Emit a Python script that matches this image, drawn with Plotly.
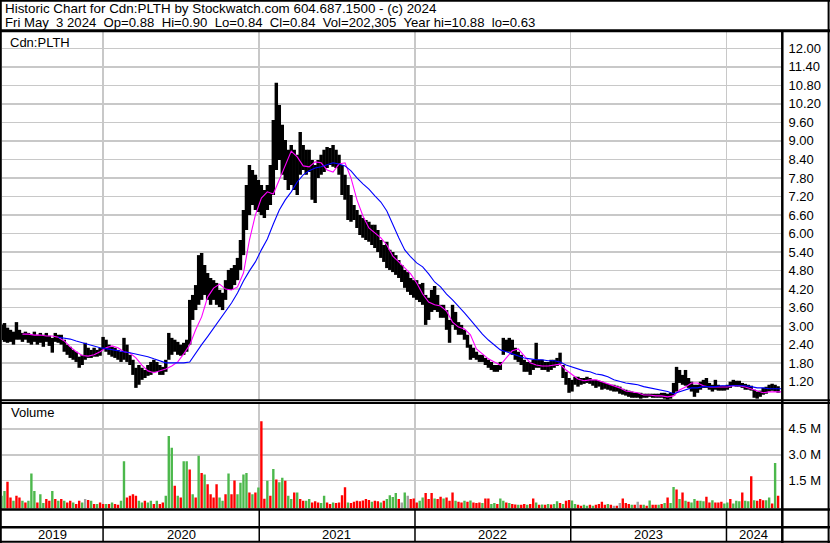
import pandas as pd
import plotly.graph_objects as go

# ---------------- data (weekly) ----------------
week_dates = pd.date_range("2019-05-08", periods=261, freq="7D")

highs = [
    3.05,
    3.10, 2.95, 2.88, 2.82, 3.13, 2.88, 2.78, 2.82, 2.78, 2.72,
    2.82, 2.72, 2.78, 2.72, 2.78, 2.69, 2.62, 2.78, 2.72, 2.72,
    2.56, 2.40, 2.33, 2.23, 2.17, 2.01, 2.07, 2.46, 2.30, 2.23,
    2.30, 2.23, 2.30, 2.65, 2.56, 2.40, 2.33, 2.30, 2.23, 2.17,
    2.62, 2.40, 2.07, 1.91, 1.65, 1.74, 1.65, 1.58, 1.74, 1.84,
    1.91, 1.84, 1.74, 1.68, 1.91, 2.78, 2.62, 2.56, 2.49, 2.40,
    2.46, 2.56, 3.85, 4.01, 4.33, 5.30, 5.37, 4.98, 4.72, 4.56,
    4.49, 4.40, 4.17, 4.08, 4.49, 4.82, 4.88, 4.98, 5.21, 5.79,
    6.76, 7.57, 8.22, 8.06, 7.90, 7.73, 7.57, 7.41, 7.57, 8.22,
    9.68, 10.88, 10.16, 9.52, 9.03, 8.71, 8.87, 8.71, 8.55, 9.29,
    8.87, 8.71, 8.71, 8.38, 8.22, 8.38, 8.55, 8.71, 8.80, 8.77,
    8.87, 8.71, 8.55, 8.22, 7.90, 7.57, 7.25, 6.92, 6.76, 6.60,
    6.50, 6.44, 6.38, 6.28, 6.28, 6.11, 5.79, 5.63, 5.73, 5.47,
    5.40,
    5.30, 5.14, 4.98, 4.82, 4.75, 4.56, 4.49, 4.49, 4.36, 4.40,
    4.01, 3.92, 4.17, 4.30, 4.01, 3.69, 3.69, 3.52, 3.20, 3.69,
    3.46, 3.13, 3.04, 2.88, 2.72, 2.40, 2.30, 2.17, 2.07, 2.07,
    1.97, 1.91, 1.84, 1.74, 1.74, 1.84, 2.62, 2.56, 2.62, 2.56,
    2.30, 2.17, 2.07, 1.91, 1.84, 1.84, 1.91, 2.46, 1.91, 1.91,
    1.84, 1.84, 1.91, 1.91, 1.97, 2.14, 1.74, 1.52, 1.32, 1.26,
    1.36, 1.36, 1.32, 1.32, 1.36, 1.32, 1.26, 1.26, 1.23, 1.20,
    1.16, 1.13, 1.10, 1.10, 1.07, 1.04, 0.97, 0.94, 0.91, 0.88,
    0.84, 0.84, 0.84, 0.81, 0.81, 0.81, 0.81, 0.81, 0.81, 0.84,
    0.84, 0.81, 0.84, 1.16, 1.68, 1.58, 1.42, 1.58, 1.32, 1.20,
    1.10, 1.10, 1.20, 1.26, 1.32, 1.16, 1.10, 1.26, 1.10, 1.07,
    1.07, 1.10, 1.20, 1.26, 1.23, 1.23, 1.16, 1.13, 1.10, 1.07,
    0.94, 0.88, 0.91, 1.00, 1.04, 1.10, 1.13, 1.10, 1.05,
]

lows = [
    2.55,
    2.49, 2.46, 2.49, 2.40, 2.56, 2.56, 2.49, 2.56, 2.46, 2.40,
    2.49, 2.40, 2.46, 2.33, 2.49, 2.36, 2.14, 2.49, 2.46, 2.40,
    2.17, 2.07, 1.97, 1.91, 1.84, 1.65, 1.74, 1.91, 1.97, 1.97,
    2.01, 2.01, 2.04, 2.23, 2.17, 2.07, 2.01, 1.97, 1.91, 1.84,
    1.91, 1.84, 1.74, 1.42, 1.00, 1.10, 1.26, 1.32, 1.39, 1.42,
    1.52, 1.52, 1.42, 1.42, 1.52, 1.91, 2.07, 2.17, 2.07, 2.04,
    2.07, 2.17, 2.40, 3.20, 3.52, 3.69, 3.85, 4.01, 3.85, 3.69,
    3.85, 3.69, 3.62, 3.52, 3.85, 4.17, 4.17, 4.33, 4.49, 4.82,
    5.30, 6.11, 6.60, 6.92, 6.76, 6.70, 6.60, 6.50, 6.76, 6.92,
    7.25, 8.06, 8.38, 7.90, 7.73, 7.41, 7.57, 7.41, 7.25, 7.90,
    8.06, 7.90, 7.99, 7.09, 6.99, 7.80, 7.90, 7.99, 8.12, 8.22,
    8.16, 8.12, 7.90, 7.25, 7.09, 6.44, 6.38, 6.44, 6.18, 5.95,
    5.86, 5.79, 5.73, 5.63, 5.53, 5.40, 5.21, 5.08, 4.88, 4.82,
    4.75,
    4.66, 4.56, 4.43, 4.24, 4.11, 4.01, 3.92, 3.85, 3.78, 3.69,
    3.04, 3.20, 3.46, 3.52, 3.46, 3.27, 3.27, 2.88, 2.46, 3.04,
    2.88, 2.72, 2.72, 2.56, 2.30, 1.91, 1.97, 1.91, 1.84, 1.84,
    1.74, 1.65, 1.58, 1.52, 1.52, 1.58, 2.07, 2.17, 2.17, 2.07,
    1.91, 1.84, 1.74, 1.52, 1.52, 1.42, 1.58, 1.65, 1.65, 1.58,
    1.58, 1.52, 1.58, 1.65, 1.71, 1.78, 1.32, 1.10, 0.84, 0.88,
    1.10, 1.04, 1.10, 1.13, 1.16, 1.13, 1.07, 1.00, 1.04, 0.94,
    0.97, 0.94, 0.91, 0.88, 0.88, 0.81, 0.78, 0.75, 0.71, 0.68,
    0.68, 0.68, 0.65, 0.68, 0.68, 0.71, 0.68, 0.68, 0.68, 0.68,
    0.65, 0.62, 0.65, 0.75, 0.88, 1.16, 1.10, 1.07, 1.00, 0.88,
    0.71, 0.84, 0.94, 1.00, 1.00, 0.94, 0.88, 0.94, 0.91, 0.91,
    0.91, 0.94, 1.00, 1.07, 1.04, 1.04, 1.00, 0.94, 0.94, 0.91,
    0.68, 0.65, 0.71, 0.78, 0.81, 0.88, 0.91, 0.88, 0.84,
]

volume_m = [
    0.62,
    0.90, 1.44, 0.52, 0.33, 0.62, 0.52, 0.33, 0.24, 0.33, 1.91,
    0.90, 0.24, 0.71, 0.20, 0.43, 0.33, 0.90, 0.43, 0.33, 0.43,
    0.33, 0.24, 0.33, 0.24, 0.14, 0.33, 0.24, 0.43, 0.38, 0.33,
    0.14, 0.14, 0.24, 0.14, 0.14, 0.14, 0.24, 0.14, 0.10, 0.33,
    2.62, 0.52, 0.62, 0.71, 0.62, 0.33, 0.24, 0.33, 0.24, 0.33,
    0.14, 0.33, 0.14, 0.24, 0.62, 4.09, 3.40, 1.20, 0.62, 0.52,
    2.62, 2.62, 2.14, 0.71, 0.52, 2.95, 1.95, 1.86, 1.29, 0.71,
    0.52, 1.29, 0.52, 0.33, 0.71, 1.91, 0.71, 1.51, 0.71, 1.38,
    1.86, 1.95, 0.81, 0.71, 0.81, 1.10, 4.94, 0.45, 1.50, 0.62,
    2.18, 1.57, 1.40, 1.67, 1.50, 0.62, 0.43, 0.81, 0.81, 0.43,
    0.33, 0.33, 0.43, 0.24, 0.30, 0.24, 0.20, 0.62, 0.24, 0.14,
    0.24, 0.20, 0.24, 0.66, 1.12, 0.24, 0.20, 0.28, 0.33, 0.30,
    0.35, 0.43, 0.38, 0.28, 0.33, 0.30, 0.24, 0.33, 0.43, 0.66,
    0.55,
    0.78, 0.43, 0.24, 0.81, 0.62, 0.43, 0.47, 0.24, 0.33, 0.52,
    0.78, 0.43, 0.78, 0.47, 0.43, 0.57, 0.47, 0.52, 0.33, 0.81,
    0.33, 0.28, 0.24, 0.33, 0.28, 0.35, 0.24, 0.20, 0.24, 0.20,
    0.47, 0.47, 0.14, 0.20, 0.14, 0.47, 0.33, 0.24, 0.20, 0.14,
    0.12, 0.10, 0.10, 0.14, 0.10, 0.14, 0.47, 0.24, 0.10, 0.12,
    0.10, 0.14, 0.12, 0.14, 0.30, 0.20, 0.14, 0.33, 0.38, 0.35,
    0.14, 0.10, 0.05, 0.10, 0.05, 0.10, 0.05, 0.10, 0.14, 0.28,
    0.10, 0.14, 0.10, 0.05, 0.05, 0.20, 0.47, 0.20, 0.14, 0.10,
    0.10, 0.28, 0.10, 0.10, 0.05, 0.35, 0.10, 0.10, 0.10, 0.14,
    0.20, 0.52, 0.20, 1.13, 0.98, 0.43, 0.81, 0.33, 0.28, 0.24,
    0.43, 0.33, 0.33, 0.30, 0.57, 0.24, 0.36, 0.24, 0.24, 0.28,
    0.18, 0.24, 0.43, 0.18, 0.33, 0.30, 0.81, 0.33, 0.30, 1.76,
    0.36, 0.33, 0.43, 0.36, 0.36, 0.52, 0.18, 2.52, 0.62,
]

# g = up (green), r = down (red), n = unchanged (grey)
volume_dir = list(
    "g"
    "grrgrrgrgg" "grggrrgrgr" "grrgrrgnrg" "rgrrgrgrrg" "grrrrggrgg"
    "rgrrgggrgr" "ggrgrgrgrr" "rrggrgrrgg" "ggrgrgrrgr" "grggrggrgr"
    "rggrrrggrr" "grrrrgrrrr" "rrrgrrgrgg"
    "g"
    "grngnrrrgg" "rrrgrrgrrr" "grrgrgrrrg" "rrggrggrgr" "rgrrgrrgrg"
    "rgrggrgrrg" "grrggrgrrr" "rgrnrnrrrg" "rnrgrgrrgr" "grggrgrgrg"
    "grggrrgrrr" "ggrgggrggr" "grrrggrgr"
)

ma_dates = pd.date_range("2019-05-15", periods=131, freq="14D")

ma_short = [
    None, None, None, 2.74, 2.74, 2.71, 2.71, 2.68, 2.68, 2.64,
    2.52, 2.33, 2.17, 2.05, 2.03, 2.07, 2.17, 2.30, 2.36, 2.30,
    2.17, 2.13, 1.97, 1.74, 1.55, 1.49, 1.55, 1.61, 1.71, 1.84,
    2.10, 2.39, 2.88, 3.30, 3.94, 4.23, 4.36, 4.20, 4.17, 4.27,
    4.72, 5.79, 6.60, 7.15, 7.35, 7.28, 7.74, 8.22, 8.67, 8.48,
    8.19, 8.16, 8.32, 8.29, 8.06, 7.99, 8.25, 8.29, 7.80, 7.09,
    6.57, 6.18, 6.02, 5.86, 5.63, 5.27, 5.08, 4.88, 4.69, 4.40,
    4.04, 3.78, 3.69, 3.65, 3.49, 3.13, 2.97, 2.91, 2.72, 2.26,
    2.10, 1.94, 1.84, 1.74, 1.97, 2.20, 2.26, 2.04, 1.81, 1.74,
    1.71, 1.71, 1.74, 1.77, 1.58, 1.42, 1.29, 1.23, 1.26, 1.26,
    1.20, 1.13, 1.07, 1.00, 0.90, 0.87, 0.84, 0.77, 0.77, 0.74,
    0.74, 0.71, 0.74, 0.93, 1.03, 1.16, 1.16, 1.07, 1.03, 1.03,
    1.03, 1.03, 1.07, 1.07, 1.03, 0.97, 0.90, 0.84, 0.87, 0.87,
    0.87,
]

ma_long = [
    None, None, None, None, None, None, None, None, None, 2.64,
    2.61, 2.58, 2.52, 2.46, 2.40, 2.36, 2.30, 2.27, 2.23, 2.20,
    2.17, 2.14, 2.10, 2.07, 2.01, 1.94, 1.88, 1.81, 1.81, 1.81,
    1.81, 1.84, 2.14, 2.40, 2.66, 2.93, 3.20, 3.46, 3.75, 4.07,
    4.46, 4.79, 5.08, 5.47, 5.82, 6.31, 6.76, 7.09, 7.35, 7.67,
    7.90, 8.03, 8.12, 8.16, 8.22, 8.29, 8.25, 8.19, 8.03, 7.80,
    7.61, 7.44, 7.22, 7.02, 6.73, 6.28, 5.86, 5.47, 5.24, 5.05,
    4.92, 4.69, 4.43, 4.27, 4.04, 3.85, 3.65, 3.43, 3.20, 2.97,
    2.74, 2.55, 2.40, 2.23, 2.17, 2.10, 2.04, 1.97, 1.94, 1.91,
    1.91, 1.88, 1.88, 1.84, 1.74, 1.68, 1.61, 1.55, 1.52, 1.45,
    1.42, 1.36, 1.26, 1.20, 1.16, 1.13, 1.10, 1.04, 1.00, 0.97,
    0.91, 0.88, 0.81, 0.88, 0.94, 1.00, 1.00, 1.04, 1.04, 1.04,
    1.07, 1.07, 1.07, 1.07, 1.07, 1.04, 1.00, 1.00, 0.97, 0.97,
    0.97,
]

price_ticks = [1.20, 1.80, 2.40, 3.00, 3.60, 4.20, 4.80, 5.40, 6.00, 6.60,
               7.20, 7.80, 8.40, 9.00, 9.60, 10.20, 10.80, 11.40, 12.00]
volume_ticks = [1.5e6, 3.0e6, 4.5e6]
volume_tick_labels = ["1.5 M", "3.0 M", "4.5 M"]
year_starts = ["2020-01-01", "2021-01-01", "2022-01-01", "2023-01-01", "2024-01-01"]
year_labels = ["2019", "2020", "2021", "2022", "2023", "2024"]
year_label_dates = ["2019-09-04", "2020-07-02", "2021-07-02", "2022-07-02",
                    "2023-07-02", "2024-03-05"]

header1 = "Historic Chart for Cdn:PLTH by Stockwatch.com 604.687.1500 - (c) 2024"
header2 = ("Fri May\u00a0\u00a03 2024\u00a0\u00a0Op=0.88\u00a0\u00a0Hi=0.90\u00a0\u00a0"
           "Lo=0.84\u00a0\u00a0Cl=0.84\u00a0\u00a0Vol=202,305\u00a0\u00a0"
           "Year hi=10.88\u00a0\u00a0lo=0.63")

# ---------------- layout helpers ----------------
W, H = 830, 543
FONT = "Arial, 'Liberation Sans', sans-serif"
GRID = "#C8C8C8"
WEEK_MS = 7 * 24 * 3600 * 1000
VOL_AXIS_MIN = -0.12e6


def px(x):
    return x / W


def py(y):
    return 1 - y / H


colour_map = {"g": "#4CB84C", "r": "#FF0000", "n": "#A0A0A0"}
vol_values = [v * 1e6 for v in volume_m]

fig = go.Figure()

fig.add_trace(go.Bar(
    x=week_dates, y=[h - l for h, l in zip(highs, lows)], base=lows,
    width=WEEK_MS * 1.15, marker=dict(color="black", line=dict(width=0)),
    xaxis="x", yaxis="y", hoverinfo="skip"))
fig.add_trace(go.Scatter(
    x=ma_dates, y=ma_short, mode="lines", line=dict(color="#FF00FF", width=1.1),
    xaxis="x", yaxis="y", hoverinfo="skip"))
fig.add_trace(go.Scatter(
    x=ma_dates, y=ma_long, mode="lines", line=dict(color="#0000FF", width=1.1),
    xaxis="x", yaxis="y", hoverinfo="skip"))
fig.add_trace(go.Bar(
    x=week_dates, y=[v - VOL_AXIS_MIN for v in vol_values], base=VOL_AXIS_MIN,
    width=WEEK_MS * 0.8,
    marker=dict(color=[colour_map[c] for c in volume_dir], line=dict(width=0)),
    xaxis="x2", yaxis="y2", hoverinfo="skip"))

xdom = [px(2), px(781.5)]
xrange_ = ["2019-05-09 03:00", "2024-05-08 23:00"]

axis_font = dict(family=FONT, size=13, color="black")

fig.update_layout(
    width=W, height=H,
    margin=dict(l=0, r=0, t=0, b=0),
    paper_bgcolor="white", plot_bgcolor="white",
    showlegend=False, barmode="overlay", hovermode=False,
    font=dict(family=FONT, size=13, color="black"),
    xaxis=dict(domain=xdom, type="date", range=xrange_, anchor="y",
               tickvals=year_starts, showticklabels=False, ticks="",
               showgrid=True, gridcolor=GRID, gridwidth=1.5,
               zeroline=False, showline=False, fixedrange=True),
    yaxis=dict(domain=[py(400), py(31)], range=[0.607, 12.56], side="right",
               anchor="x", tickvals=price_ticks,
               ticktext=[f"{t:.2f}" for t in price_ticks],
               tickfont=axis_font, ticks="", ticklabelstandoff=6,
               showgrid=True, gridcolor=GRID, gridwidth=1.5,
               zeroline=False, showline=False),
    xaxis2=dict(domain=xdom, type="date", matches="x", anchor="y2",
                tickvals=year_starts, showticklabels=False, ticks="",
                showgrid=True, gridcolor=GRID, gridwidth=1.5,
                zeroline=False, showline=False),
    yaxis2=dict(domain=[py(508.6), py(403)], range=[VOL_AXIS_MIN, 6.0e6],
                side="right", anchor="x2", tickvals=volume_ticks,
                ticktext=volume_tick_labels, tickfont=axis_font, ticks="",
                ticklabelstandoff=6,
                showgrid=True, gridcolor=GRID, gridwidth=1.5,
                zeroline=False, showline=False),
)

annotations = [
    dict(text=header1, x=px(3), y=py(8.5), size=13.4),
    dict(text=header2, x=px(3), y=py(22), size=13.15),
    dict(text="Cdn:PLTH", x=px(8), y=py(42), size=13),
    dict(text="Volume", x=px(9), y=py(413), size=13),
]
ann = []
for a in annotations:
    ann.append(dict(xref="paper", yref="paper", xanchor="left", yanchor="middle",
                    showarrow=False,
                    font=dict(family=FONT, size=a["size"], color="black"),
                    text=a["text"], x=a["x"], y=a["y"]))
for lab, d in zip(year_labels, year_label_dates):
    ann.append(dict(text=lab, x=d, y=py(534), xref="x", yref="paper",
                    xanchor="center", yanchor="middle", showarrow=False,
                    font=dict(family=FONT, size=13, color="black")))
fig.update_layout(annotations=ann)

shapes = []


def hline(y, w, x0=0, x1=W):
    shapes.append(dict(type="line", xref="paper", yref="paper",
                       x0=px(x0), x1=px(x1), y0=py(y), y1=py(y),
                       line=dict(color="black", width=w)))


def vline(x, w, y0=0, y1=H):
    shapes.append(dict(type="line", xref="paper", yref="paper",
                       x0=px(x), x1=px(x), y0=py(y0), y1=py(y1),
                       line=dict(color="black", width=w)))


hline(0.8, 2)            # top border
hline(30.8, 3)           # header separator
hline(400.2, 2)          # price panel bottom
hline(402.9, 2)          # volume panel top
hline(509.6, 2.5)        # volume panel bottom
hline(527.2, 2.5)        # row separator
hline(541.7, 2)          # bottom border
vline(0.8, 2)            # left border
vline(828.6, 2)          # right border
vline(782.3, 2.5, 30.8, H)   # right axis line
for d in year_starts:
    shapes.append(dict(type="line", xref="x", yref="paper", x0=d, x1=d,
                       y0=py(510), y1=py(541.7),
                       line=dict(color="black", width=1.5)))
fig.update_layout(shapes=shapes)

fig.write_html(
    "out.html",
    config={"displayModeBar": False, "staticPlot": True},
    post_script="document.body.style.margin='0';document.body.style.overflow='hidden';",
)
